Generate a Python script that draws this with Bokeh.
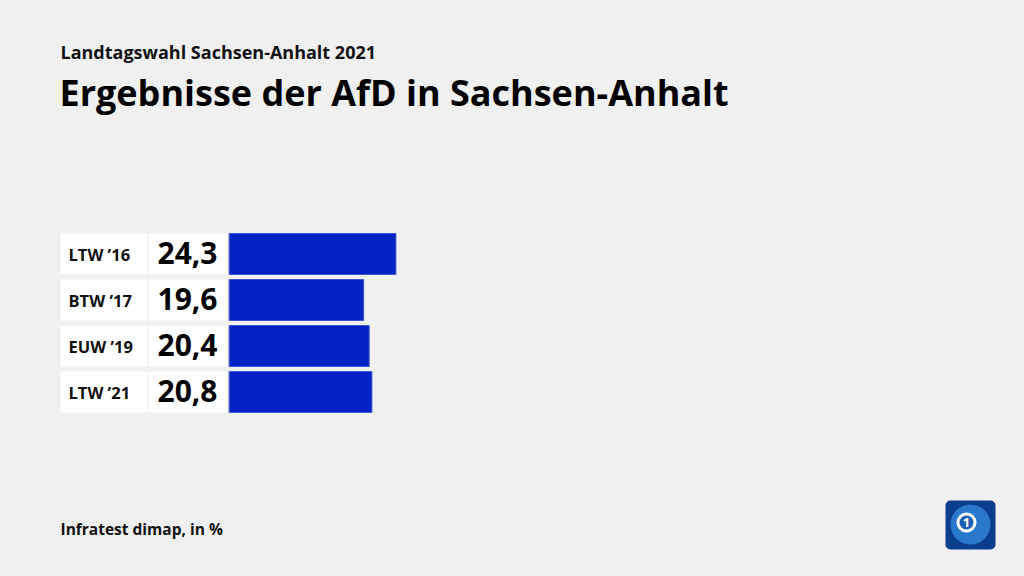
from bokeh.plotting import figure
from bokeh.models import Range1d
from bokeh.core.properties import value
from bokeh.embed import file_html
from bokeh.resources import INLINE

# ---- data ----
categories = ["LTW ’16", "BTW ’17", "EUW ’19", "LTW ’21"]
results = [24.3, 19.6, 20.4, 20.8]
value_labels = ["24,3", "19,6", "20,4", "20,8"]
subtitle = "Landtagswahl Sachsen-Anhalt 2021"
title = "Ergebnisse der AfD in Sachsen-Anhalt"
source = "Infratest dimap, in %"

# ---- layout (page pixels) ----
W, H, OFF = 1024, 576, 0
PXU = 166.7 / 24.3          # pixels per percentage point
X0 = 228.7                  # page x of value 0
FONT = value("Open Sans")
BG = "#f0f0f0"
BAR = "#0021c4"
ADJ = 0.38                  # baseline correction (fraction of font size)

def dx(px):
    return (px - X0) / PXU

def by(baseline, size):
    return baseline - ADJ * size

p = figure(width=W, height=H, output_backend="svg", toolbar_location=None,
           x_range=Range1d(dx(OFF), dx(OFF + W)),
           y_range=Range1d(OFF + H, OFF), min_border=0)
p.axis.visible = False
p.grid.visible = False
p.outline_line_color = None
p.background_fill_color = BG
p.border_fill_color = BG

row_c = [253.5 + 46 * i for i in range(len(categories))]
tops = [c - 20.5 for c in row_c]
bots = [c + 20.5 for c in row_c]

# label boxes
p.quad(left=[dx(60)] * 4, right=[dx(146.7)] * 4, top=tops, bottom=bots,
       fill_color="white", line_color=None)
p.quad(left=[dx(148.3)] * 4, right=[dx(226.7)] * 4, top=tops, bottom=bots,
       fill_color="white", line_color=None)
# bars
p.hbar(y=row_c, height=41, left=0, right=results, fill_color=BAR,
       line_color="#3a55d0", line_width=1)

p.text(x=[dx(68)] * 4, y=[by(c + 7, 16.5) for c in row_c], text=categories,
       text_font=FONT, text_font_style="bold", text_font_size="16.5px",
       text_color="#111111", text_baseline="alphabetic", text_align="left")
p.text(x=[dx(217)] * 4, y=[by(c + 10.5, 30) for c in row_c], text=value_labels,
       text_font=FONT, text_font_style="bold", text_font_size="30px",
       text_color="#000000", text_baseline="alphabetic", text_align="right")

p.text(x=[dx(60)], y=[by(58, 18)], text=[subtitle], text_font=FONT,
       text_font_style="bold", text_font_size="18px", text_color="#111111",
       text_baseline="alphabetic")
p.text(x=[dx(59)], y=[by(106, 36)], text=[title], text_font=FONT,
       text_font_style="bold", text_font_size="36px", text_color="#000000",
       text_baseline="alphabetic")
p.text(x=[dx(60)], y=[by(534, 15.5)], text=[source], text_font=FONT,
       text_font_style="bold", text_font_size="15.5px", text_color="#111111",
       text_baseline="alphabetic")

# logo (decoration)
p.quad(left=[dx(945)], right=[dx(995)], top=[500], bottom=[549],
       fill_color="#0b3d8f", line_color=None, border_radius=5)
p.ellipse(x=[dx(970)], y=[524], width=[40 / PXU], height=[40],
          fill_color="#2a78cc", line_color=None)
p.ellipse(x=[dx(966)], y=[522], width=[20 / PXU], height=[20],
          fill_color="white", line_color=None)
p.ellipse(x=[dx(966)], y=[522], width=[14 / PXU], height=[14],
          fill_color="#1f5fb5", line_color=None)
p.text(x=[dx(966)], y=[522], text=["1"], text_font=FONT, text_font_style="bold",
       text_font_size="13px", text_color="white", text_align="center",
       text_baseline="middle")

html = file_html(p, INLINE)
style = ("<style>html,body{margin:0;padding:0;background:%s;overflow:hidden}</style>" % BG)
html = html.replace("</head>", style + "</head>", 1)
open("out.html", "w").write(html)
